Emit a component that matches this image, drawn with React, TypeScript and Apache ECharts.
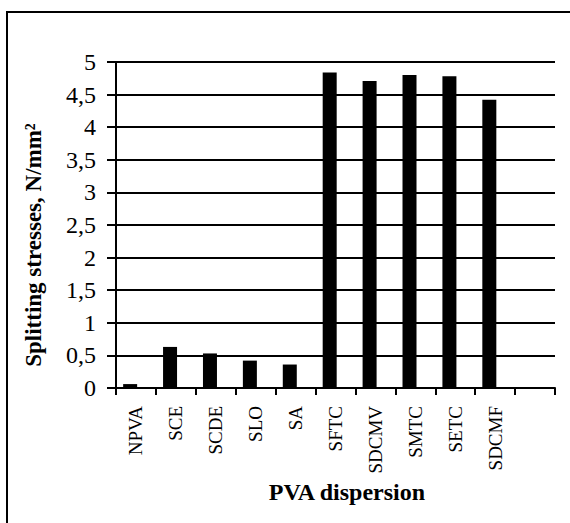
import React, { useEffect, useRef } from "react";
import * as echarts from "echarts";

const categories = ["NPVA", "SCE", "SCDE", "SLO", "SA", "SFTC", "SDCMV", "SMTC", "SETC", "SDCMF", ""];
const splittingStress = [0.06, 0.63, 0.53, 0.42, 0.36, 4.84, 4.71, 4.8, 4.78, 4.42, null];
const emptySeries = categories.map(() => null);
const yTitle = "Splitting stresses, N/mm²";
const xTitle = "PVA dispersion";

const FONT = "Liberation Serif";

export default function App() {
  const ref = useRef<HTMLDivElement>(null);
  useEffect(() => {
    if (!ref.current) return;
    const chart = echarts.init(ref.current, undefined, { renderer: "svg" });
    chart.setOption({
      animation: false,
      backgroundColor: "#fff",
      grid: { left: 116, right: 15, top: 62, bottom: 135, containLabel: false },
      xAxis: {
        type: "category",
        data: categories,
        boundaryGap: true,
        axisLine: { show: true, lineStyle: { color: "#000", width: 2 } },
        axisTick: { show: true, length: 7, lineStyle: { color: "#000", width: 2 } },
        axisLabel: {
          rotate: 90,
          margin: 18,
          color: "#000",
          fontFamily: FONT,
          fontSize: 19,
          interval: 0,
        },
        splitLine: { show: false },
      },
      yAxis: {
        type: "value",
        min: 0,
        max: 5,
        interval: 0.5,
        axisLine: { show: true, lineStyle: { color: "#000", width: 2 } },
        axisTick: { show: true, length: 9, lineStyle: { color: "#000", width: 2 } },
        axisLabel: {
          margin: 20,
          color: "#000",
          fontFamily: FONT,
          fontSize: 24,
          formatter: (v: number) => String(v).replace(".", ","),
        },
        splitLine: { show: true, lineStyle: { color: "#000", width: 2 } },
      },
      series: [
        {
          type: "bar",
          data: splittingStress,
          barWidth: 14,
          barGap: "-17%",
          itemStyle: { color: "#000" },
        },
        {
          type: "bar",
          data: emptySeries,
          barWidth: 14,
          barGap: "-17%",
          itemStyle: { color: "#000" },
        },
      ],
      graphic: [
        {
          type: "rect",
          shape: { x: 7, y: 12, width: 800, height: 800 },
          style: { fill: "none", stroke: "#000", lineWidth: 2 },
          silent: true,
        },
        {
          type: "text",
          x: 33,
          y: 245,
          rotation: Math.PI / 2,
          style: {
            text: yTitle,
            fontFamily: FONT,
            fontWeight: "bold",
            fontSize: 23,
            fill: "#000",
            align: "center",
            verticalAlign: "middle",
          },
        },
        {
          type: "text",
          x: 347,
          y: 492,
          style: {
            text: xTitle,
            fontFamily: FONT,
            fontWeight: "bold",
            fontSize: 24,
            fill: "#000",
            align: "center",
            verticalAlign: "middle",
          },
        },
      ],
    });
    return () => chart.dispose();
  }, []);
  return (
    <div
      ref={ref}
      style={{ position: "fixed", left: 0, top: 0, width: 570, height: 523, background: "#fff" }}
    />
  );
}
